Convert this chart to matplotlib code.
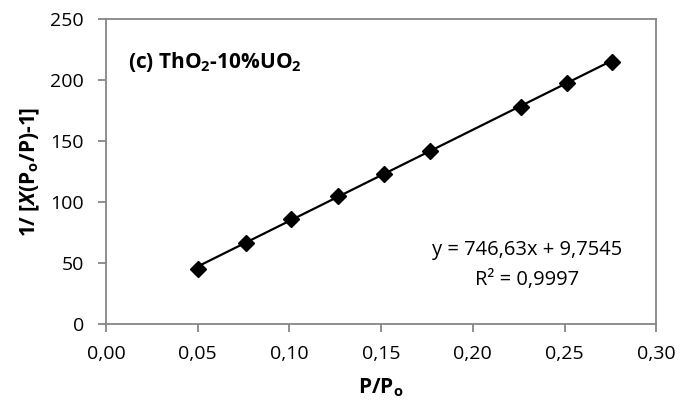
import matplotlib
matplotlib.use('Agg')
import matplotlib.pyplot as plt
import numpy as np

plt.rcParams['font.family'] = ['Open Sans', 'DejaVu Sans']
plt.rcParams['mathtext.fontset'] = 'custom'
plt.rcParams['mathtext.rm'] = 'Open Sans'
plt.rcParams['mathtext.bf'] = 'Open Sans:bold'
plt.rcParams['mathtext.it'] = 'Open Sans:italic'
plt.rcParams['mathtext.bfit'] = 'Open Sans:italic:bold'

p_ratio = [0.050, 0.0765, 0.101, 0.1265, 0.1515, 0.1765, 0.226, 0.2515, 0.276]
bet_y = [45.0, 66.5, 86.0, 105.0, 123.0, 142.0, 178.0, 197.0, 214.5]
slope, intercept = 746.63, 9.7545
x_ticks = [0.00, 0.05, 0.10, 0.15, 0.20, 0.25, 0.30]
y_ticks = [0, 50, 100, 150, 200, 250]

gray = '#868686'

fig = plt.figure(figsize=(6.8, 4.09), dpi=100)
ax = fig.add_axes([0.156, 0.208, 0.809, 0.746])

xfit = np.array([p_ratio[0], p_ratio[-1]])
ax.plot(xfit, slope * xfit + intercept, color='black', lw=1.6, zorder=2)
ax.plot(p_ratio, bet_y, linestyle='none', marker='D', markersize=8.5,
        color='black', zorder=3)

ax.set_xlim(0, 0.30)
ax.set_ylim(0, 250)
ax.set_xticks(x_ticks)
ax.set_yticks(y_ticks)
ax.set_xticklabels([f'{t:.2f}'.replace('.', ',') for t in x_ticks])
ax.set_yticklabels([str(t) for t in y_ticks])

for s in ax.spines.values():
    s.set_color(gray)
    s.set_linewidth(1.3)
ax.tick_params(axis='both', colors=gray, labelcolor='black', labelsize=14,
               length=6, width=1.3, direction='out')
ax.tick_params(axis='x', pad=9)
ax.tick_params(axis='y', pad=10)

ax.set_xlabel(r'P/P$_\mathbf{o}$', fontsize=15, fontweight='bold', labelpad=10)
ax.set_ylabel(r'1/ [$\mathbfit{X}$(P$_\mathbf{o}$/P)-1]', fontsize=15,
              fontweight='bold', labelpad=6)

ax.text(0.04, 0.858, r'(c) ThO$_\mathbf{2}$-10%UO$_\mathbf{2}$', transform=ax.transAxes,
        fontsize=15, fontweight='bold', ha='left', va='center')
ax.text(0.765, 0.243, 'y = 746,63x + 9,7545', transform=ax.transAxes,
        fontsize=14.5, ha='center', va='center')
ax.text(0.765, 0.144, 'R² = 0,9997', transform=ax.transAxes,
        fontsize=14.5, ha='center', va='center')

fig.savefig('out.png', dpi=100)
